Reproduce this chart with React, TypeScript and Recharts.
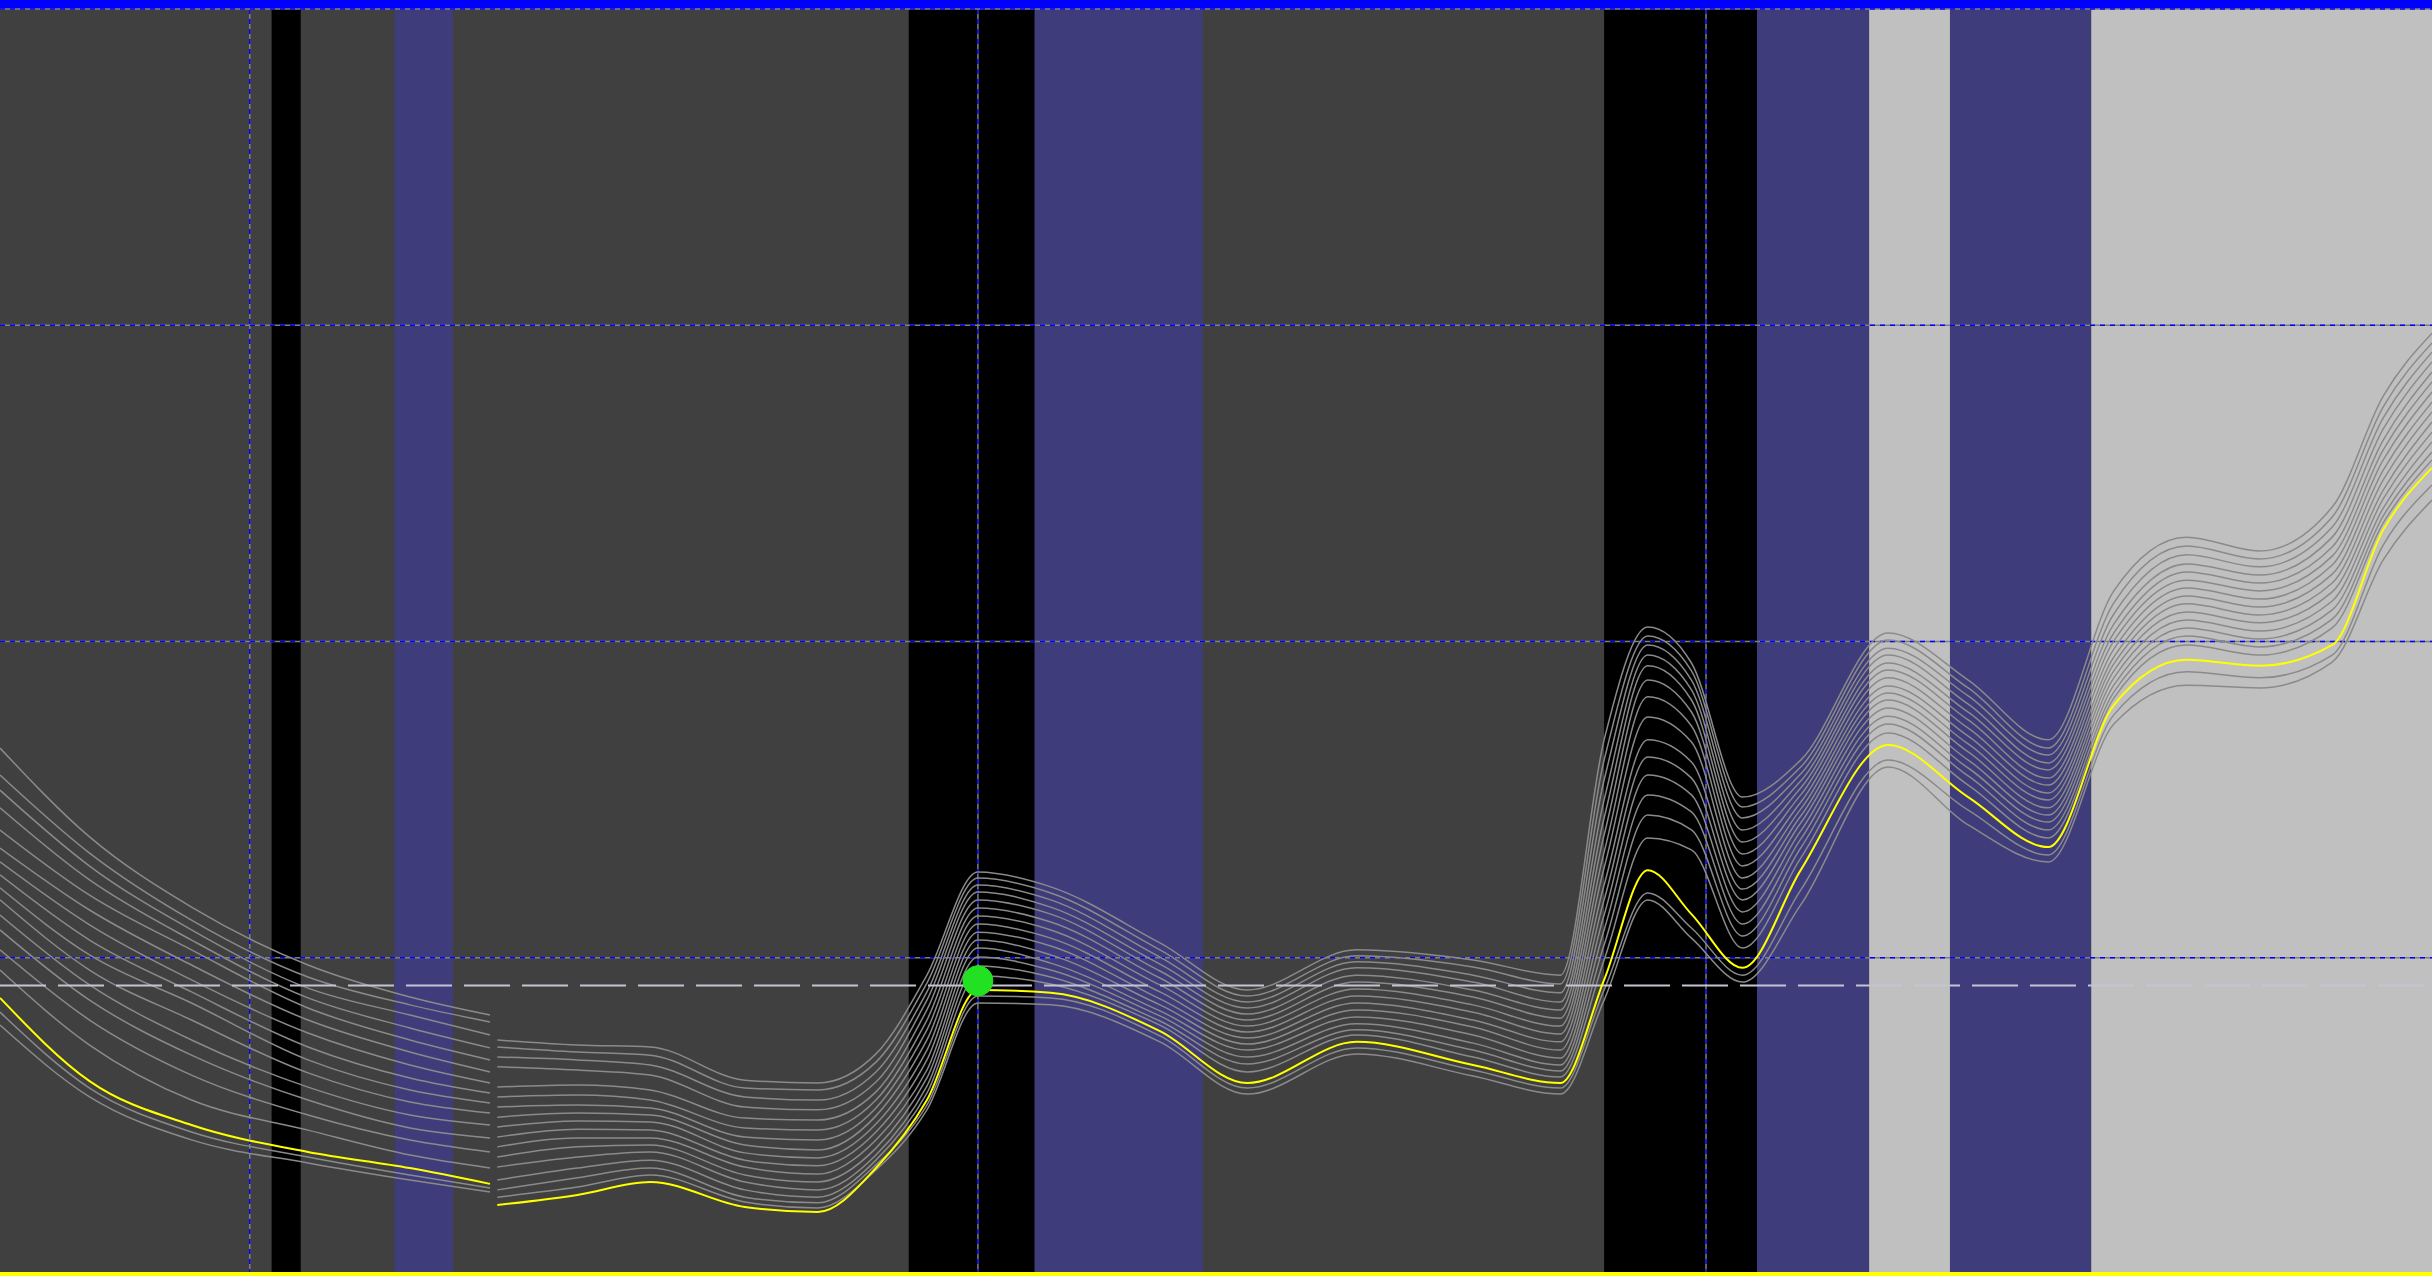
import { LineChart, Line, XAxis, YAxis, ReferenceArea, ReferenceLine, ReferenceDot } from 'recharts';

// sample positions along the x axis (null row at 33.4 breaks the lines)
const xs = [-34.3, -22, -8, 8, 22, 33, 33.4, 34, 45, 55, 68, 78, 86, 93, 100, 110, 125, 137, 152, 168, 180, 186, 192, 198, 205, 213, 225, 236, 247, 256, 266, 276, 286, 293, 299.7];

const yellowLine = [87.3, 61.0, 47.1, 38.6, 33.5, 28.5, null, 21.8, 25.0, 29.1, 21.2, 19.6, 33.5, 55.0, 89.8, 88.9, 76.8, 60.4, 73.4, 66.1, 60.4, 93.0, 127.7, 113.8, 96.8, 127.7, 167.3, 150.8, 135.0, 179.9, 194.2, 192.3, 198.9, 235.3, 254.9];

const greyLines = [
  [166.3, 138.2, 116.0, 97.7, 87.6, 81.9, null, 74.0, 72.4, 71.8, 61.3, 60.4, 69.6, 94.5, 127.1, 122.4, 104.7, 89.8, 102.5, 99.3, 94.5, 168.9, 204.6, 193.2, 150.8, 162.5, 202.7, 187.8, 168.9, 216.0, 233.0, 228.6, 242.5, 277.6, 297.5],
  [157.8, 133.1, 111.9, 93.9, 85.1, 79.7, null, 71.8, 70.2, 69.2, 58.8, 58.2, 67.0, 92.0, 125.2, 120.5, 102.5, 87.9, 100.6, 97.1, 91.7, 162.5, 201.7, 190.7, 147.7, 160.3, 200.5, 185.3, 166.3, 212.2, 230.2, 226.1, 239.4, 274.2, 294.4],
  [153.0, 129.0, 108.8, 90.4, 81.9, 75.6, null, 68.6, 67.7, 66.1, 56.0, 55.0, 63.9, 89.2, 123.0, 118.3, 100.2, 86.0, 98.7, 94.5, 88.9, 156.2, 198.9, 187.8, 144.2, 158.1, 197.9, 182.8, 164.1, 208.7, 227.4, 223.6, 236.2, 270.7, 291.5],
  [147.4, 124.6, 105.6, 87.3, 77.8, 71.5, null, 65.5, 64.5, 62.9, 52.8, 51.9, 60.7, 86.6, 120.8, 116.0, 98.0, 84.1, 96.8, 92.3, 86.0, 149.9, 195.7, 184.7, 140.4, 155.9, 195.7, 180.2, 161.6, 205.5, 224.5, 221.0, 233.0, 267.2, 288.4],
  [140.4, 119.8, 102.5, 84.1, 74.0, 67.7, null, 59.1, 59.8, 58.2, 49.3, 48.7, 57.6, 83.5, 118.3, 113.8, 95.8, 82.2, 94.5, 89.8, 83.5, 144.2, 192.3, 181.5, 136.6, 153.7, 193.2, 177.7, 159.4, 202.7, 222.0, 218.5, 229.9, 263.7, 285.2],
  [134.7, 115.1, 97.7, 80.3, 70.2, 63.9, null, 56.0, 56.6, 55.0, 46.2, 45.5, 55.0, 80.3, 115.7, 111.3, 93.6, 80.3, 92.3, 87.6, 80.9, 138.8, 187.8, 177.7, 132.8, 151.5, 191.0, 175.2, 156.8, 200.2, 219.4, 216.0, 227.0, 260.6, 282.1],
  [130.3, 110.4, 93.0, 76.2, 66.1, 60.4, null, 52.8, 53.4, 52.5, 43.3, 42.4, 52.5, 77.2, 113.2, 108.8, 91.4, 78.4, 90.1, 85.1, 78.4, 133.4, 182.5, 173.3, 129.0, 149.2, 188.5, 172.6, 154.6, 197.6, 216.9, 213.4, 224.2, 257.4, 278.9],
  [126.2, 105.6, 89.2, 71.8, 62.0, 57.2, null, 49.6, 50.9, 50.3, 40.8, 39.2, 50.0, 74.0, 110.7, 106.2, 89.2, 76.5, 87.9, 82.8, 75.9, 128.4, 176.1, 168.2, 125.2, 147.0, 185.9, 170.1, 152.1, 195.1, 214.4, 210.9, 221.3, 254.2, 275.7],
  [122.1, 100.9, 85.7, 67.7, 58.2, 54.1, null, 46.5, 48.4, 48.1, 38.3, 36.7, 47.4, 70.8, 108.1, 103.7, 87.0, 74.6, 85.7, 80.3, 73.4, 123.0, 168.9, 161.9, 121.7, 144.8, 183.7, 167.6, 149.9, 192.9, 211.9, 208.4, 218.5, 251.1, 272.6],
  [118.3, 96.1, 80.3, 63.6, 54.4, 50.9, null, 43.3, 45.8, 45.5, 36.0, 34.2, 44.9, 67.7, 105.6, 100.9, 85.1, 72.7, 83.5, 78.1, 70.8, 118.3, 163.5, 156.8, 118.3, 142.6, 181.5, 165.1, 147.4, 190.7, 209.3, 205.9, 215.7, 247.9, 269.4],
  [113.5, 91.4, 74.0, 59.1, 50.3, 47.1, null, 40.2, 43.0, 43.0, 33.8, 31.6, 42.4, 64.5, 103.1, 98.3, 83.2, 70.8, 81.3, 75.6, 68.3, 113.5, 157.8, 151.5, 114.5, 140.1, 179.0, 162.5, 145.1, 188.5, 206.8, 203.3, 212.8, 245.1, 266.2],
  [108.8, 86.6, 69.2, 55.0, 46.2, 43.0, null, 37.0, 40.2, 40.8, 31.3, 29.1, 39.8, 62.0, 100.2, 96.1, 81.6, 68.6, 79.1, 73.0, 66.1, 108.8, 151.5, 146.1, 110.7, 137.5, 176.4, 160.0, 142.9, 186.2, 204.3, 200.8, 210.0, 242.2, 263.1],
  [102.5, 80.3, 62.9, 50.3, 42.4, 38.6, null, 33.8, 37.0, 38.6, 29.1, 26.6, 37.6, 59.4, 97.4, 93.9, 80.0, 66.4, 77.2, 70.8, 64.2, 104.0, 145.1, 140.4, 106.9, 134.7, 173.9, 157.5, 140.4, 184.0, 201.7, 198.3, 207.1, 239.7, 259.9],
  [96.1, 72.4, 55.0, 45.5, 37.6, 33.5, null, 29.7, 33.5, 36.0, 26.6, 24.3, 36.0, 57.2, 94.2, 91.7, 78.7, 63.9, 75.6, 68.6, 62.3, 99.3, 137.9, 134.1, 103.1, 131.5, 171.1, 154.6, 137.9, 182.1, 198.9, 195.7, 204.3, 237.5, 257.4],
  [82.8, 58.8, 44.9, 37.0, 31.3, 27.2, null, 26.6, 30.4, 33.5, 24.3, 22.5, 34.5, 53.4, 87.9, 87.3, 75.3, 58.8, 71.5, 64.5, 58.8, 89.8, 120.5, 109.4, 94.5, 121.4, 162.5, 146.7, 132.5, 176.8, 190.4, 188.5, 195.7, 230.5, 249.5],
  [78.7, 56.0, 42.4, 35.1, 29.7, 25.9, null, 24.3, 27.5, 31.3, 22.8, 20.9, 32.9, 51.9, 85.7, 85.1, 73.4, 56.9, 69.6, 62.6, 56.9, 86.6, 118.3, 106.2, 92.3, 116.7, 160.3, 142.0, 130.3, 173.9, 186.2, 185.3, 193.5, 225.8, 244.7],
];

// background bands along x
const bandStart = [-34.3, 3.0, 19.9, 90.5, 107.8, 186.0, 207.0, 222.4, 233.5, 252.9];
const bandEnd = [299.7, 7.0, 27.9, 107.8, 130.9, 207.0, 222.4, 233.5, 252.9, 299.7];
const bandColour = ['#404040', '#000000', '#3e3c7a', '#000000', '#3e3c7a', '#000000', '#3e3c7a', '#c0c0c0', '#3e3c7a', '#c0c0c0'];

const xTicks = [0, 100, 200];
const yTicks = [100, 200, 300, 400];
const baseline = 91.2;
const marker = { x: 100, y: 92.7 };

const data = xs.map((x, i) => {
  const row: Record<string, number | null> = { x, yellow: yellowLine[i] };
  greyLines.forEach((g, k) => {
    row[`g${k}`] = g[i];
  });
  return row;
});

export default function App() {
  return (
    <div style={{ position: 'absolute', left: 0, top: 0, width: 2432, height: 1276, background: '#0000ff' }}>
      <LineChart width={2432} height={1276} data={data} margin={{ top: 9, right: 0, bottom: 2, left: 0 }}>
        <XAxis dataKey="x" type="number" domain={[-34.3, 299.7]} ticks={xTicks} hide allowDataOverflow />
        <YAxis type="number" domain={[0, 400]} hide allowDataOverflow />
        {bandStart.map((b, i) => (
          <ReferenceArea key={`b${i}`} x1={b} x2={bandEnd[i]} y1={0} y2={400} fill={bandColour[i]} fillOpacity={1} stroke="none" ifOverflow="hidden" />
        ))}
        {/* grid: grey line under blue dashes */}
        {xTicks.map((t) => (
          <ReferenceLine key={`vx${t}`} x={t} stroke="#808080" strokeWidth={1.5} />
        ))}
        {xTicks.map((t) => (
          <ReferenceLine key={`vb${t}`} x={t} stroke="#0000ff" strokeWidth={1.5} strokeDasharray="5 5" />
        ))}
        {yTicks.map((t) => (
          <ReferenceLine key={`hx${t}`} y={t} stroke="#808080" strokeWidth={1.5} />
        ))}
        {yTicks.map((t) => (
          <ReferenceLine key={`hb${t}`} y={t} stroke="#0000ff" strokeWidth={1.5} strokeDasharray="5 5" />
        ))}
        {greyLines.map((_, k) => (
          <Line
            key={k}
            dataKey={`g${k}`}
            type="monotone"
            stroke="#8a8a8a"
            strokeWidth={1.5}
            dot={false}
            activeDot={false}
            connectNulls={false}
            isAnimationActive={false}
          />
        ))}
        <ReferenceLine y={baseline} stroke="#c4c4d4" strokeWidth={2} strokeDasharray="46 12" />
        <Line dataKey="yellow" type="monotone" stroke="#ffff00" strokeWidth={2} dot={false} activeDot={false} connectNulls={false} isAnimationActive={false} />
        <ReferenceDot x={marker.x} y={marker.y} r={15} fill="#22e022" stroke="#22e022" />
        <ReferenceLine y={0} stroke="#ffff00" strokeWidth={4} />
      </LineChart>
    </div>
  );
}
